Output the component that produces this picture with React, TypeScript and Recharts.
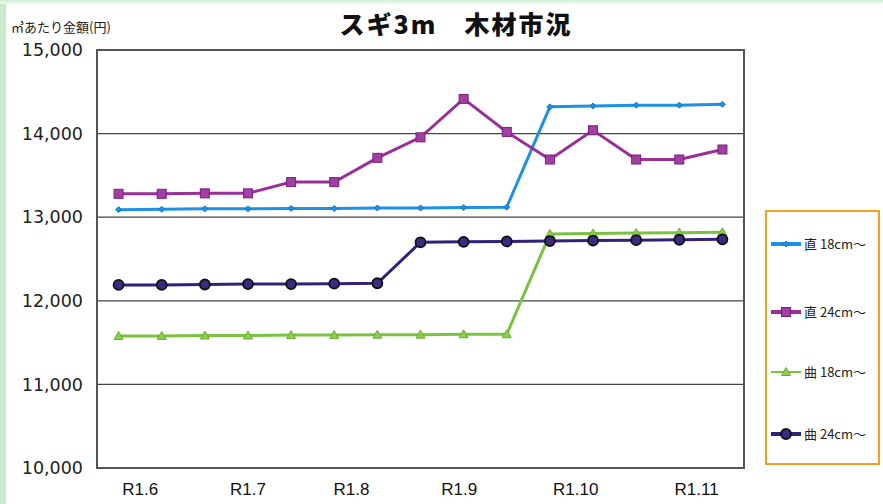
import React from "react";
import { LineChart, Line, XAxis, YAxis, CartesianGrid, ReferenceArea } from "recharts";

const monthLabels = ["R1.6", "R1.7", "R1.8", "R1.9", "R1.10", "R1.11"];
const monthTicks = [0.5, 3.0, 5.4, 7.9, 10.6, 13.4];
const pointIndex = [0, 1, 2, 3, 4, 5, 6, 7, 8, 9, 10, 11, 12, 13, 14];

const choku18 = [13090, 13095, 13100, 13100, 13105, 13105, 13110, 13110, 13115, 13120, 14320, 14330, 14340, 14340, 14350];
const choku24 = [13280, 13280, 13285, 13285, 13420, 13420, 13710, 13955, 14415, 14020, 13690, 14040, 13690, 13690, 13810];
const kyoku18 = [11580, 11580, 11585, 11585, 11590, 11590, 11595, 11595, 11600, 11600, 12800, 12805, 12810, 12815, 12820];
const kyoku24 = [12190, 12190, 12195, 12200, 12200, 12205, 12210, 12700, 12705, 12710, 12715, 12720, 12725, 12730, 12735];

const yTicks = [10000, 11000, 12000, 13000, 14000, 15000];

const seriesNames = ["直 18cm～", "直 24cm～", "曲 18cm～", "曲 24cm～"];
const seriesKeys = ["c18", "c24", "k18", "k24"];
const seriesColors = ["#1e90e6", "#9a2f98", "#7cc242", "#33207a"];

const data = pointIndex.map((i) => ({
  idx: i,
  c18: choku18[i],
  c24: choku24[i],
  k18: kyoku18[i],
  k24: kyoku24[i],
}));

const DiamondDot = (props: any) => {
  const { cx, cy } = props;
  if (cx == null || cy == null) return null;
  const s = 3;
  return <path d={`M${cx},${cy - s} L${cx + s},${cy} L${cx},${cy + s} L${cx - s},${cy} Z`} fill="#1e90e6" stroke="#1578c8" strokeWidth={1} />;
};
const SquareDot = (props: any) => {
  const { cx, cy } = props;
  if (cx == null || cy == null) return null;
  return <rect x={cx - 4.5} y={cy - 4.5} width={9} height={9} fill="#a23fa2" stroke="#7a1f7a" strokeWidth={1} />;
};
const TriangleDot = (props: any) => {
  const { cx, cy } = props;
  if (cx == null || cy == null) return null;
  return <path d={`M${cx},${cy - 4.5} L${cx + 4.5},${cy + 3.5} L${cx - 4.5},${cy + 3.5} Z`} fill="#8ccf4c" stroke="#6cae34" strokeWidth={1} />;
};
const CircleDot = (props: any) => {
  const { cx, cy } = props;
  if (cx == null || cy == null) return null;
  return <circle cx={cx} cy={cy} r={5} fill="#3b2a80" stroke="#111" strokeWidth={1.8} />;
};

const dots = [DiamondDot, SquareDot, TriangleDot, CircleDot];

const LegendBox = () => (
  <div
    style={{
      position: "absolute",
      left: 765,
      top: 210,
      width: 111,
      height: 251,
      border: "2px solid #f5a020",
      background: "#fff",
      fontFamily: "'Noto Sans CJK JP', sans-serif",
      fontSize: 13,
      color: "#222",
    }}
  >
    {seriesNames.map((name, i) => {
      const tops = [22, 90, 150, 212];
      const Dot = dots[i];
      return (
        <div key={name} style={{ position: "absolute", left: 3, top: tops[i], display: "flex", alignItems: "center" }}>
          <svg width={32} height={14} style={{ display: "block" }}>
            <line x1={1} y1={7} x2={31} y2={7} stroke={seriesColors[i]} strokeWidth={i === 2 ? 2 : 4} />
            <Dot cx={16} cy={7} />
          </svg>
          <span style={{ marginLeft: 2, whiteSpace: "nowrap" }}>{name}</span>
        </div>
      );
    })}
  </div>
);

export default function App() {
  return (
    <div style={{ position: "absolute", left: 0, top: 0, width: 883, height: 504, background: "#fff", overflow: "hidden" }}>
      <div style={{ position: "absolute", left: 0, top: 0, width: 6, height: 504, background: "#c9ecd1" }} />
      <div style={{ position: "absolute", left: 0, top: 0, width: 883, height: 4, background: "linear-gradient(#cdeed4, #f2fbf3)" }} />
      <div
        style={{
          position: "absolute",
          left: 0,
          width: 912,
          top: 5,
          textAlign: "center",
          fontFamily: "'Noto Sans CJK JP', sans-serif",
          fontWeight: 900,
          fontSize: 25,
          color: "#111",
          letterSpacing: 2,
        }}
      >
        スギ3m　木材市況
      </div>
      <div
        style={{
          position: "absolute",
          left: 11,
          top: 17,
          fontFamily: "'Noto Sans CJK JP', sans-serif",
          fontSize: 13,
          color: "#222",
        }}
      >
        ㎥あたり金額(円)
      </div>
      <LineChart width={883} height={504} data={data} margin={{ top: 50, right: 139, bottom: 0, left: 0 }}>
        <CartesianGrid vertical={false} stroke="#444" strokeWidth={1.3} />
        <XAxis
          dataKey="idx"
          type="number"
          domain={[-0.5, 14.5]}
          ticks={monthTicks}
          interval={0}
          tickFormatter={(v: number) => monthLabels[monthTicks.indexOf(v)] ?? ""}
          height={36}
          axisLine={false}
          tickLine={false}
          tickSize={0}
          tickMargin={15}
          tick={{ fill: "#111", fontSize: 17, fontFamily: "'Liberation Sans Narrow', 'Liberation Sans', sans-serif" }}
        />
        <YAxis
          domain={[10000, 15000]}
          ticks={yTicks}
          interval={0}
          width={97}
          axisLine={false}
          tickLine={false}
          tickSize={0}
          tickMargin={14}
          tickFormatter={(v: number) => v.toLocaleString("en-US")}
          tick={{ fill: "#222", fontSize: 17.5, fontFamily: "'DejaVu Sans', sans-serif" }}
        />
        <ReferenceArea x1={-0.5} x2={14.5} y1={10000} y2={15000} fill="none" stroke="#555" strokeWidth={2} ifOverflow="visible" />
        {seriesKeys.map((k, i) => (
          <Line
            key={k}
            dataKey={k}
            name={seriesNames[i]}
            stroke={seriesColors[i]}
            strokeWidth={3}
            dot={dots[i]}
            activeDot={false}
            isAnimationActive={false}
          />
        ))}
      </LineChart>
      <LegendBox />
    </div>
  );
}
